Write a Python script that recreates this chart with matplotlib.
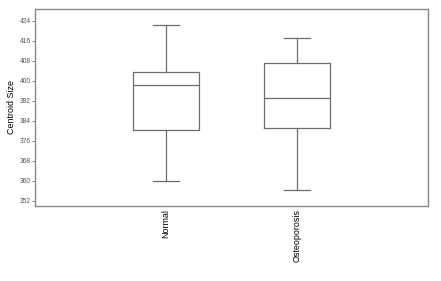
import matplotlib
matplotlib.use("Agg")
import matplotlib.pyplot as plt

# box statistics
groups = ["Normal", "Osteoporosis"]
whisker_low = [360.0, 356.2]
q1 = [380.3, 381.0]
median = [398.4, 393.2]
q3 = [403.5, 407.0]
whisker_high = [422.2, 417.2]
y_ticks = [352, 360, 368, 376, 384, 392, 400, 408, 416, 424]

plt.rcParams["font.family"] = ["Liberation Sans", "DejaVu Sans"]

fig = plt.figure(figsize=(4.41, 2.81), dpi=100)
ax = fig.add_axes([35 / 441, 1 - 206 / 281, 393 / 441, 197 / 281])

stats = []
for i, g in enumerate(groups):
    stats.append({
        "label": g,
        "whislo": whisker_low[i],
        "q1": q1[i],
        "med": median[i],
        "q3": q3[i],
        "whishi": whisker_high[i],
        "fliers": [],
    })

line_color = "#6e6e6e"
ax.bxp(stats, positions=[1, 2], widths=0.5, showfliers=False,
       boxprops=dict(color=line_color, linewidth=0.9),
       medianprops=dict(color=line_color, linewidth=0.9),
       whiskerprops=dict(color=line_color, linewidth=0.9),
       capprops=dict(color=line_color, linewidth=0.9),
       capwidths=0.2)

ax.set_xlim(0, 3)
ax.set_ylim(349.9, 428.7)
ax.set_yticks(y_ticks)
ax.set_xticks([1, 2])
ax.set_xticklabels(groups, rotation=90, fontsize=6.4)
ax.tick_params(axis="y", labelsize=4.8, length=2, width=0.5, pad=1, colors="#555555")
ax.tick_params(axis="x", length=0, pad=2)
ax.set_ylabel("Centroid Size", fontsize=6.4, labelpad=3)

for s in ax.spines.values():
    s.set_color("#8a8a8a")
    s.set_linewidth(1.0)

fig.savefig("out.png", dpi=100)
